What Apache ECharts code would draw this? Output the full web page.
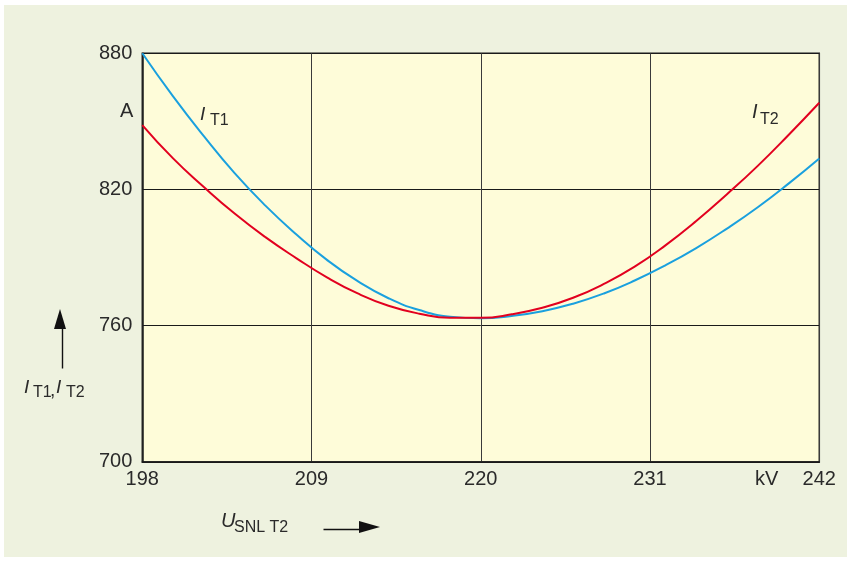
<!DOCTYPE html>
<html lang="de">
<head>
    <meta charset="UTF-8">
    <title>I_T1, I_T2 ueber U_SNL T2</title>
    <style>
        html, body { margin: 0; padding: 0; background: #ffffff; }
        #main { position: absolute; left: 4px; top: 5px; width: 843px; height: 552px; background: #eef2df; }
    </style>
</head>
<body>
<div id="main"></div>
<script src="https://cdn.jsdelivr.net/npm/echarts@6/dist/echarts.min.js"></script>
<script>
    // Spannung U_SNL T2 in kV
    var voltage = [198, 200, 202, 204, 206, 208, 210, 212, 214, 216, 218, 220,
                   222, 224, 226, 228, 230, 232, 234, 236, 238, 240, 242];
    // Strom I_T1 in A (blau)
    var iT1 = [880.0, 861.0, 843.5, 827.2, 812.9, 800.3, 789.0, 779.6, 772.1, 766.9, 764.0, 763.3,
               764.3, 766.4, 769.7, 774.2, 779.9, 786.6, 794.2, 802.8, 812.2, 822.6, 833.7];
    // Strom I_T2 in A (rot)
    var iT2 = [848.4, 833.7, 821.1, 809.4, 799.0, 789.8, 781.3, 774.2, 768.8, 765.3, 763.5, 763.5,
               765.0, 767.9, 772.3, 778.4, 786.0, 795.4, 806.1, 817.9, 830.4, 844.0, 858.2];
    var xTicks = [198, 209, 220, 231, 242];
    var yTicks = [700, 760, 820, 880];

    var font = 'Liberation Sans, Arial, sans-serif';
    var myChart = echarts.init(document.getElementById('main'));

    function pairs(ys) {
        var out = [];
        for (var i = 0; i < voltage.length; i++) {
            out.push([voltage[i], ys[i]]);
        }
        return out;
    }

    // Beschriftungen, x/y = linke obere Ecke im Fenster (Div-Offset 4px / 5px)
    function txt(x, y, s, size, style) {
        return {
            type: 'text', left: x - 4, top: y - 5, z: 10,
            style: {
                text: s, fontSize: size, fontFamily: font, fontStyle: style || 'normal',
                fill: '#2a2a2a'
            }
        };
    }

    var option = {
        backgroundColor: 'transparent',
        animation: false,
        grid: {
            left: 138.3, right: 27.7, top: 48.3, bottom: 95.1,
            show: true,
            backgroundColor: '#fefcd9',
            borderColor: '#1a1a1a',
            borderWidth: 1.5
        },
        xAxis: {
            type: 'value',
            min: xTicks[0],
            max: xTicks[xTicks.length - 1],
            interval: 11,
            axisLine: { show: true, lineStyle: { color: '#1a1a1a', width: 1.5 } },
            axisTick: { show: false },
            splitLine: { show: true, lineStyle: { color: '#3a3a3a', width: 1 } },
            axisLabel: { color: '#2a2a2a', fontSize: 20, fontFamily: font, margin: 8 }
        },
        yAxis: {
            type: 'value',
            min: yTicks[0],
            max: yTicks[yTicks.length - 1],
            interval: 60,
            axisLine: { show: true, lineStyle: { color: '#1a1a1a', width: 1.5 } },
            axisTick: { show: false },
            splitLine: { show: true, lineStyle: { color: '#1a1a1a', width: 1 } },
            axisLabel: { color: '#2a2a2a', fontSize: 20, fontFamily: font, margin: 10 }
        },
        graphic: [
            txt(120, 101, 'A', 20),
            txt(755, 469, 'kV', 20),
            // Kurvenbeschriftungen
            txt(200, 105, 'I', 19, 'italic'),
            txt(210, 113, 'T1', 16),
            txt(752, 102, 'I', 20, 'italic'),
            txt(760, 112, 'T2', 16),
            // y-Achsentitel
            txt(24, 378, 'I', 19, 'italic'),
            txt(33, 385, 'T1', 16),
            txt(50, 381, ',', 19),
            txt(56, 378, 'I', 19, 'italic'),
            txt(66, 385, 'T2', 16),
            // x-Achsentitel
            txt(221, 511, 'U', 20, 'italic'),
            txt(234, 520, 'SNL T2', 16),
            {
                type: 'line', left: 321 - 4, top: 527 - 5,
                shape: { x1: 0, y1: 0, x2: 42, y2: 0 },
                style: { stroke: '#111', lineWidth: 1.4 }
            },
            {
                type: 'polygon', left: 359 - 4, top: 521 - 5,
                shape: { points: [[0, 0], [21, 6], [0, 12]] },
                style: { fill: '#111' }
            },
            {
                type: 'line', left: 60 - 4, top: 326 - 5,
                shape: { x1: 0, y1: 0, x2: 0, y2: 40 },
                style: { stroke: '#111', lineWidth: 1.4 }
            },
            {
                type: 'polygon', left: 54 - 4, top: 309 - 5,
                shape: { points: [[6, 0], [12, 20], [0, 20]] },
                style: { fill: '#111' }
            }
        ],
        series: [
            {
                name: 'I_T1',
                type: 'line',
                smooth: true,
                showSymbol: false,
                lineStyle: { color: '#1aa0de', width: 2 },
                data: pairs(iT1),
                z: 3
            },
            {
                name: 'I_T2',
                type: 'line',
                smooth: true,
                showSymbol: false,
                lineStyle: { color: '#e2001f', width: 2 },
                data: pairs(iT2),
                z: 4
            }
        ]
    };

    myChart.setOption(option);
</script>
</body>
</html>
